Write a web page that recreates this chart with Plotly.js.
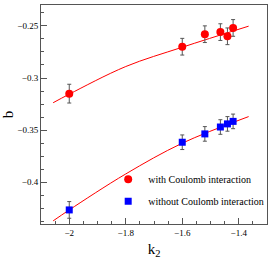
<!DOCTYPE html>
<html><head><meta charset="utf-8">
<script src="https://cdn.plot.ly/plotly-3.0.1.min.js"></script>
<style>html,body{margin:0;padding:0;background:#fff}#chart{width:274px;height:264px}</style>
</head><body><div id="chart"></div>
<script>
const k2 = [-2.0, -1.6, -1.52, -1.465, -1.44, -1.42];
const bWith = [-0.315, -0.270, -0.258, -0.256, -0.260, -0.252];
const errWith = [0.009, 0.008, 0.008, 0.008, 0.008, 0.008];
const bWithout = [-0.4265, -0.3616, -0.3536, -0.347, -0.344, -0.3416];
const errWithout = [0.008, 0.007, 0.007, 0.007, 0.007, 0.007];
const fitX = [-2.057, -2.0, -1.8, -1.6, -1.365];
const fitWith = [-0.3237, -0.3155, -0.289, -0.2705, -0.2503];
const fitWithout = [-0.437, -0.4265, -0.392, -0.3625, -0.337];
const legendNames = ['with Coulomb interaction', 'without Coulomb interaction'];

const serif = 'Liberation Serif, Times New Roman, serif';
const axisCol = '#555';
const traces = [
  {x: fitX, y: fitWith, mode: 'lines', line: {color: 'red', width: 1, shape: 'spline'}, showlegend: false, hoverinfo: 'skip'},
  {x: fitX, y: fitWithout, mode: 'lines', line: {color: 'red', width: 1, shape: 'spline'}, showlegend: false, hoverinfo: 'skip'},
  {x: k2, y: bWith, mode: 'markers', name: legendNames[0], legendgroup: 'a',
   marker: {symbol: 'circle', size: 8, color: 'red'},
   error_y: {type: 'data', array: errWith, visible: true, color: axisCol, thickness: 1, width: 2}},
  {x: k2, y: bWithout, mode: 'markers', name: legendNames[1], legendgroup: 'b',
   marker: {symbol: 'square', size: 7, color: 'blue'},
   error_y: {type: 'data', array: errWithout, visible: true, color: axisCol, thickness: 1, width: 2}}
];
const layout = {
  width: 274, height: 264,
  margin: {l: 41, r: 6, t: 5, b: 40},
  paper_bgcolor: '#fff', plot_bgcolor: '#fff',
  font: {family: serif, size: 9, color: '#000'},
  showlegend: true,
  legend: {x: 0.296, y: 0.27, xanchor: 'left', yanchor: 'top', bgcolor: 'rgba(0,0,0,0)',
           font: {family: serif, size: 10, color: '#000'}, traceorder: 'grouped', tracegroupgap: 3},
  xaxis: {range: [-2.1, -1.3], dtick: 0.2, tick0: -2, showgrid: false, zeroline: false,
          showline: true, mirror: true, linecolor: axisCol, linewidth: 1,
          ticks: 'inside', ticklen: 6, tickcolor: axisCol,
          minor: {dtick: 0.05, ticks: 'inside', ticklen: 3, tickcolor: axisCol},
          tickfont: {family: serif, size: 9},
          title: {text: 'k<sub>2</sub>', font: {family: serif, size: 15}, standoff: 6}},
  yaxis: {range: [-0.44, -0.23], dtick: 0.05, tick0: -0.25, showgrid: false, zeroline: false,
          showline: true, mirror: true, linecolor: axisCol, linewidth: 1,
          ticks: 'inside', ticklen: 6, tickcolor: axisCol,
          minor: {dtick: 0.0125, ticks: 'inside', ticklen: 3, tickcolor: axisCol},
          tickfont: {family: serif, size: 9},
          title: {text: 'b', font: {family: serif, size: 15}, standoff: 9}}
};
Plotly.newPlot('chart', traces, layout, {displayModeBar: false, staticPlot: true});
</script></body></html>
